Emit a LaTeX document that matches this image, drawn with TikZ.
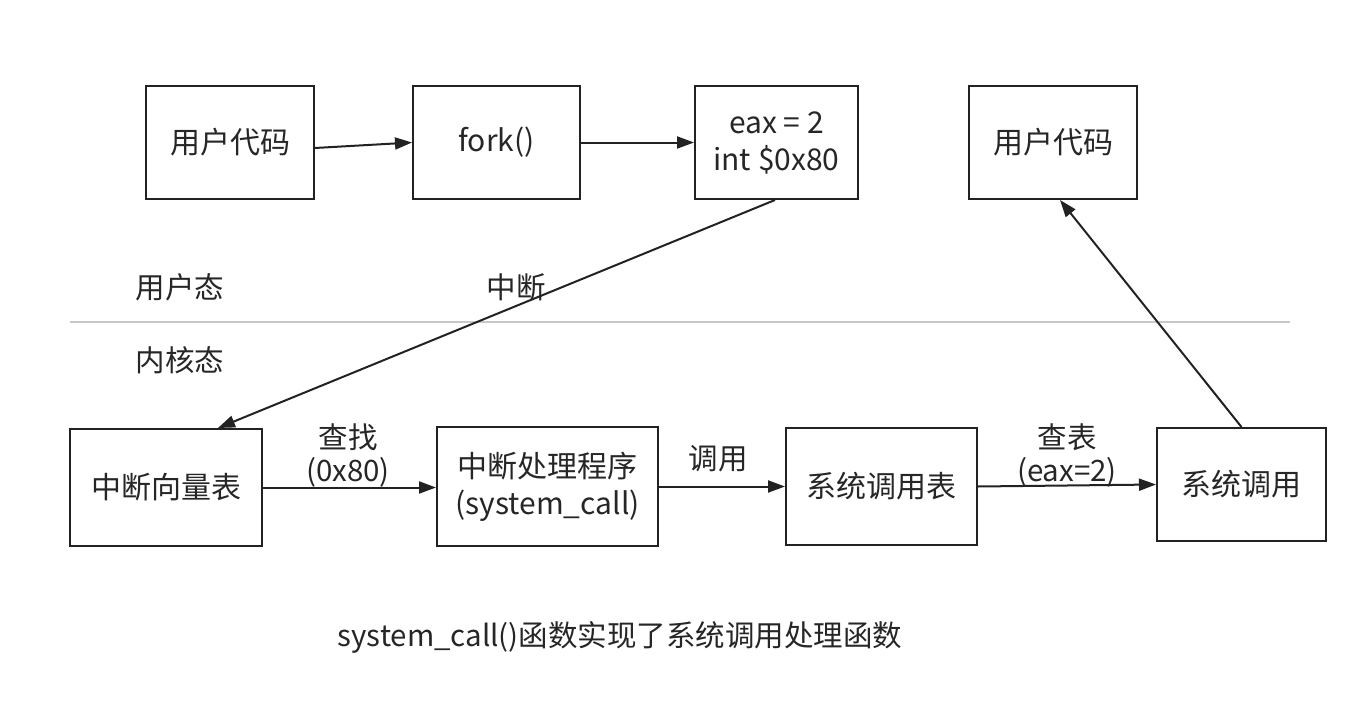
\documentclass[tikz,border=0pt]{standalone}
\usepackage{fontspec}
\newfontfamily\cjk{Noto Sans CJK SC}
\usetikzlibrary{arrows.meta}
\definecolor{ink}{HTML}{262626}
\definecolor{edge}{HTML}{222222}
\definecolor{sep}{HTML}{C8C8C8}
\tikzset{
  box/.style={draw=edge, line width=2pt, inner sep=0pt, align=center, text=ink,
    font=\cjk\fontsize{30}{37}\selectfont},
  lbl/.style={inner sep=0pt, align=center, text=ink, font=\cjk\fontsize{29.5}{33}\selectfont},
  arr/.style={draw=edge, line width=2pt, -{Triangle[length=17pt,width=12pt]}}
}
\begin{document}
\begin{tikzpicture}[x=1pt,y=-1pt]
\useasboundingbox (0,0) rectangle (1366,709);
% top row
\node[box, minimum width=168pt, minimum height=113pt] (A) at (230,142.5) {用户代码};
\node[box, minimum width=167pt, minimum height=113pt] (B) at (496.5,142.5) {fork()};
\node[box, minimum width=163pt, minimum height=113pt] (C) at (776.5,142.5) {eax = 2\\int \$0x80};
\node[box, minimum width=168pt, minimum height=113pt] (D) at (1053,142.5) {用户代码};
% bottom row
\node[box, minimum width=192pt, minimum height=117pt] (E) at (166,487.5) {中断向量表};
\node[box, minimum width=221pt, minimum height=119pt] (F) at (547.5,486.5) {中断处理程序\\(system\_call)};
\node[box, minimum width=191pt, minimum height=117pt] (G) at (881.5,486.5) {系统调用表};
\node[box, minimum width=169pt, minimum height=113pt] (H) at (1241.5,484.5) {系统调用};
% separator and region labels
\coordinate (s1) at (70,322);
\coordinate (s2) at (1290,322);
\draw[sep, line width=1.8pt] (s1) -- (s2);
\node[lbl] (user) at (180,287) {用户态};
\node[lbl] (kern) at (180,360) {内核态};
\node[lbl] (intr) at (516,287) {中断};
% connectors
\draw[arr] ([yshift=-5.5pt]A.east) -- (B.west);
\draw[arr] (B.east) -- (C.west);
\draw[arr] ([xshift=-1.5pt]C.south) -- ([xshift=52pt]E.north);
\draw[arr] (E.east) -- (F.west|-E.east);
\draw[arr] (F.east) -- (G.west|-F.east);
\draw[arr] (G.east) -- (H.west);
\draw[arr] (H.north) -- ([xshift=7pt]D.south);
% edge labels
\node[lbl] (l1) at (348,455) {查找\\(0x80)};
\node[lbl] (l2) at (718,459) {调用};
\node[lbl] (l3) at (1067,455) {查表\\(eax=2)};
% caption
\node[lbl] (cap) at (620,637) {system\_call()函数实现了系统调用处理函数};
\end{tikzpicture}
\end{document}
